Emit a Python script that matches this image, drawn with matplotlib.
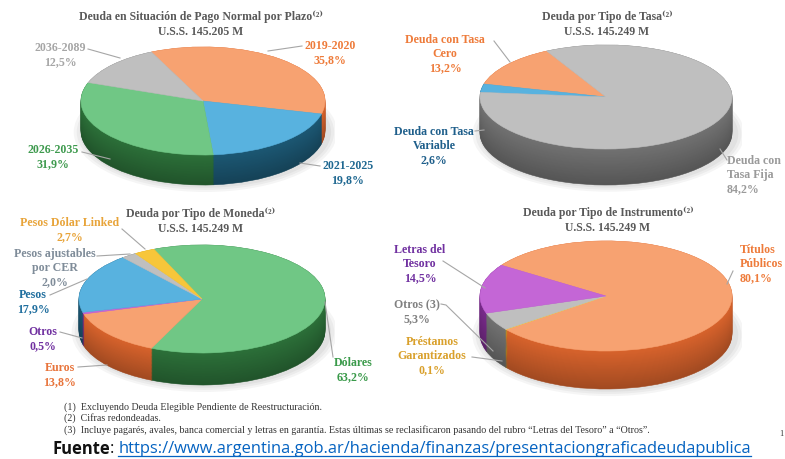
import matplotlib
matplotlib.use("Agg")
import matplotlib.pyplot as plt
from matplotlib.lines import Line2D
from matplotlib.patches import Ellipse
import numpy as np

W, H = 785, 460

# ---------------- data ----------------
plazo_labels = ["2019-2020", "2021-2025", "2026-2035", "2036-2089"]
plazo_values = [35.8, 19.8, 31.9, 12.5]

tasa_labels = ["Deuda con Tasa\nCero", "Deuda con Tasa\nVariable", "Deuda con\nTasa Fija"]
tasa_values = [13.2, 2.6, 84.2]

moneda_labels = ["Dólares", "Euros", "Otros", "Pesos", "Pesos ajustables\npor CER", "Pesos Dólar Linked"]
moneda_values = [63.2, 13.8, 0.5, 17.9, 2.0, 2.7]

instr_labels = ["Títulos\nPúblicos", "Préstamos\nGarantizados", "Otros (3)", "Letras del\nTesoro"]
instr_values = [80.1, 0.1, 5.3, 14.5]

titles = ["Deuda en Situación de Pago Normal por Plazo", "Deuda por Tipo de Tasa",
          "Deuda por Tipo de Moneda", "Deuda por Tipo de Instrumento"]
totals = ["U.S.S. 145.205 M", "U.S.S. 145.249 M", "U.S.S. 145.249 M", "U.S.S. 145.249 M"]

footnotes = ["(1)  Excluyendo Deuda Elegible Pendiente de Reestructuración.",
             "(2)  Cifras redondeadas.",
             "(3)  Incluye pagarés, avales, banca comercial y letras en garantía. Estas últimas se reclasificaron pasando del rubro \u201cLetras del Tesoro\u201d a \u201cOtros\u201d."]
source_url = "https://www.argentina.gob.ar/hacienda/finanzas/presentaciongraficadeudapublica"

# ---------------- styles ----------------
ORANGE_T, ORANGE_S = "#F7A271", "#D8632C"
BLUE_T, BLUE_S = "#58B2DF", "#1C5874"
GREEN_T, GREEN_S = "#70C785", "#2C7039"
GRAY_T, GRAY_S = "#BFBFBF", "#727272"
YEL_T, YEL_S = "#F7C63A", "#D49C12"
PUR_T, PUR_S = "#C466D6", "#7A2B8C"

SERIF = ["Liberation Serif", "DejaVu Serif"]

fig = plt.figure(figsize=(W / 100, H / 100), dpi=100)
fig.patch.set_facecolor("white")


def fx(x):
    return x / W


def fy(y):
    return 1 - y / H


def pie3d(values, tops, sides, cx, cy, rx, ry, depth, startangle, counterclock):
    m = 1.08
    left = cx - m * rx
    right = cx + m * rx
    top = cy - m * ry
    bottom = cy + m * ry + depth + 4
    ax = fig.add_axes([fx(left), fy(bottom), (right - left) / W, (bottom - top) / H])
    d = depth / ry
    for k in range(3):
        ax.add_patch(Ellipse((0.02, -d - 0.02), 2.06 + 0.05 * k, 2.06 + 0.08 * k,
                             color="#000000", alpha=0.04, lw=0, zorder=0))
    n = 40
    for k in range(n + 1):
        f = k / n
        shade = 0.75 + 0.25 * f
        cols = [np.clip(np.array(matplotlib.colors.to_rgb(c)) * shade, 0, 1) for c in sides]
        wedges, _ = ax.pie(values, colors=cols, startangle=startangle, counterclock=counterclock,
                           center=(0, -d + d * f), radius=1.0, normalize=True)
        for w in wedges:
            w.set_edgecolor(w.get_facecolor())
            w.set_linewidth(0.4)
            w.set_zorder(1 + k * 0.01)
    wedges, _ = ax.pie(values, colors=tops, startangle=startangle, counterclock=counterclock,
                       center=(0, 0), radius=1.0, normalize=True)
    for w in wedges:
        w.set_edgecolor(w.get_facecolor())
        w.set_linewidth(0.4)
        w.set_zorder(3)
    ax.set_aspect("auto")
    ax.set_xlim(-m, m)
    ax.set_ylim(-(m * ry + depth + 4) / ry, m)
    ax.axis("off")
    return ax


def pct(v):
    return f"{v:.1f}%".replace(".", ",")


def label(x, y, text, color, size=8.6, ha="center"):
    fig.text(fx(x), fy(y), text, ha=ha, va="center", color=color, fontsize=size,
             fontweight="bold", family=SERIF, linespacing=1.25)


def leader(pts):
    xs = [fx(p[0]) for p in pts]
    ys = [fy(p[1]) for p in pts]
    fig.add_artist(Line2D(xs, ys, color="#A6A6A6", lw=0.8, transform=fig.transFigure))


def title(x, y, t, tot):
    fig.text(fx(x), fy(y), t + "\u207d\u00b2\u207e", ha="center", va="center", color="#595959",
             fontsize=8.5, fontweight="bold", family=SERIF)
    fig.text(fx(x), fy(y + 15), tot, ha="center", va="center", color="#595959",
             fontsize=8.5, fontweight="bold", family=SERIF)


# ---------------- chart 1 ----------------
pie3d(plazo_values, [ORANGE_T, BLUE_T, GREEN_T, GRAY_T], [ORANGE_S, BLUE_S, GREEN_S, GRAY_S],
      203, 102, 122, 54, 30, 115, False)
title(201, 17, titles[0], totals[0])
label(60, 55, f"{plazo_labels[3]}\n{pct(plazo_values[3])}", "#A6A6A6")
leader([(88, 50), (120, 59)])
label(330, 53, f"{plazo_labels[0]}\n{pct(plazo_values[0])}", "#EE7B3A")
leader([(268, 52), (302, 47)])
label(53, 157, f"{plazo_labels[2]}\n{pct(plazo_values[2])}", "#3E9A4E")
leader([(82, 153), (110, 160)])
label(348, 173, f"{plazo_labels[1]}\n{pct(plazo_values[1])}", "#1F6891")
leader([(300, 164), (320, 167)])

# ---------------- chart 2 ----------------
pie3d(tasa_values, [ORANGE_T, BLUE_T, GRAY_T], [ORANGE_S, BLUE_S, GRAY_S],
      606, 98, 126, 52, 36, 118, True)
title(607, 17, titles[1], totals[1])
label(445, 54, f"{tasa_labels[0]}\n{pct(tasa_values[0])}", "#EE7B3A")
leader([(494, 42), (510, 63)])
label(434, 146, f"{tasa_labels[1]}\n{pct(tasa_values[1])}", "#1F5F8B")
leader([(475, 132), (484, 131)])
label(727, 175, f"{tasa_labels[2]}\n{pct(tasa_values[2])}", "#9A9A9A", ha="left")
leader([(720, 150), (727, 161)])

# ---------------- chart 3 ----------------
pie3d(moneda_values, [GREEN_T, ORANGE_T, PUR_T, BLUE_T, GRAY_T, YEL_T],
      [GREEN_S, ORANGE_S, PUR_S, BLUE_S, GRAY_S, YEL_S],
      202, 300, 123, 54, 32, 113, False)
title(201, 214, titles[2], totals[2])
label(70, 230, f"{moneda_labels[5]}\n{pct(moneda_values[5])}", "#E8A43A")
leader([(122, 230), (145, 250)])
label(55, 268, f"{moneda_labels[4]}\n{pct(moneda_values[4])}", "#7F8C99")
leader([(97, 257), (130, 255)])
label(33, 302, f"{moneda_labels[3]}\n{pct(moneda_values[3])}", "#1F6E9E")
leader([(50, 296), (87, 280)])
label(43, 339, f"{moneda_labels[2]}\n{pct(moneda_values[2])}", "#7030A0")
leader([(60, 333), (82, 339)])
label(60, 375, f"{moneda_labels[1]}\n{pct(moneda_values[1])}", "#E8743B")
leader([(78, 368), (107, 366)])
label(353, 370, f"{moneda_labels[0]}\n{pct(moneda_values[0])}", "#3A9A4A")
leader([(325, 303), (333, 358)])

# ---------------- chart 4 ----------------
pie3d(instr_values, [ORANGE_T, YEL_T, GRAY_T, PUR_T], [ORANGE_S, YEL_S, GRAY_S, PUR_S],
      606, 297, 126, 55, 38, 146, False)
title(608, 213, titles[3], totals[3])
label(420, 264, f"{instr_labels[3]}\n{pct(instr_values[3])}", "#7030A0")
leader([(443, 262), (485, 289)])
label(417, 312, f"{instr_labels[2]}\n{pct(instr_values[2])}", "#808080")
leader([(441, 305), (446, 306), (493, 352)])
label(432, 356, f"{instr_labels[1]}\n{pct(instr_values[1])}", "#D9A02B")
leader([(472, 358), (502, 362)])
label(740, 264, f"{instr_labels[0]}\n{pct(instr_values[0])}", "#EE7B3A", ha="left")
leader([(733, 272), (727, 285)])

# ---------------- footnotes ----------------
for i, t in enumerate(footnotes):
    fig.text(fx(64), fy(407 + 11.5 * i), t, ha="left", va="center", color="#333333",
             fontsize=7.2, family=SERIF)
fig.text(fx(781), fy(434), "1", ha="center", va="center", color="#333333", fontsize=6, family=SERIF)

SANS = ["Open Sans", "DejaVu Sans"]
FS = 11.9
t1 = fig.text(fx(52), fy(449), "Fuente", ha="left", va="center", color="#111111",
              fontsize=FS, fontweight="bold", family=SANS)
fig.canvas.draw()
r = fig.canvas.get_renderer()
bb = t1.get_window_extent(r)
t2 = fig.text(bb.x1 / W, fy(449), ": ", ha="left", va="center", color="#111111",
              fontsize=FS, family=SANS)
bb2 = t2.get_window_extent(r)
t3 = fig.text(bb2.x1 / W, fy(449), source_url, ha="left", va="center", color="#0563C1",
              fontsize=FS, family=SANS)
bb3 = t3.get_window_extent(r)
fig.add_artist(Line2D([bb3.x0 / W, bb3.x1 / W], [fy(457), fy(457)], color="#0563C1", lw=0.9,
                      transform=fig.transFigure))

fig.savefig("out.png", dpi=100, facecolor="white")
